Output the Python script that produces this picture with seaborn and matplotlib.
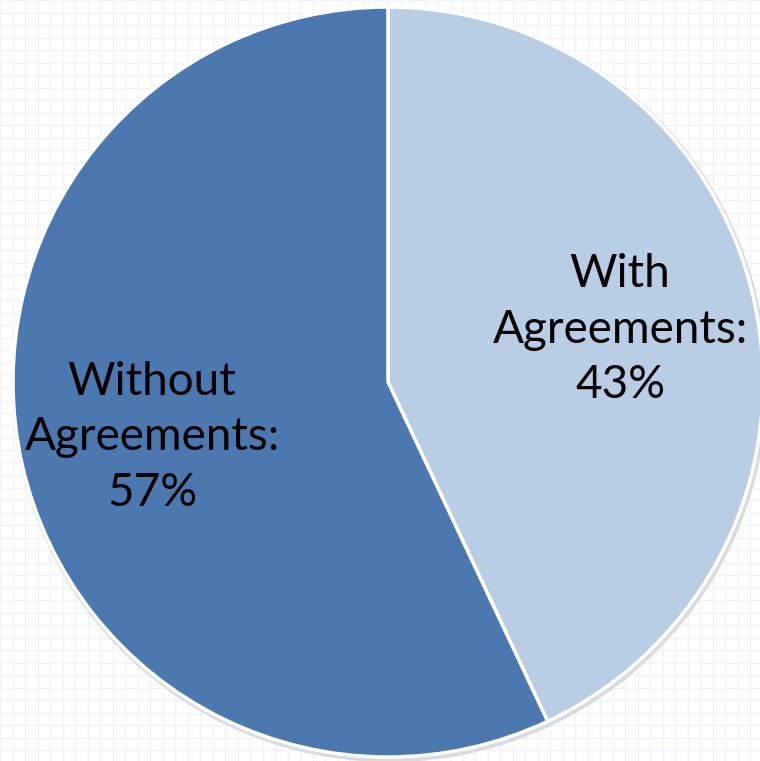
import numpy as np
import matplotlib
matplotlib.use("Agg")
from matplotlib import pyplot as plt
import seaborn as sns

labels = ["With\nAgreements:\n43%", "Without\nAgreements:\n57%"]
shares = [43, 57]
colors = ["#B9CDE5", "#4A78AF"]

sns.set_theme(style="white")
plt.rcParams["font.family"] = ["Lato", "DejaVu Sans"]

fig = plt.figure(figsize=(7.6, 7.61), dpi=100)

# faint grid-paper background
bg = fig.add_axes([0, 0, 1, 1], zorder=0)
bg.set_xlim(0, 760)
bg.set_ylim(761, 0)
bg.set_xticks(np.arange(0, 761, 12.5))
bg.set_yticks(np.arange(0, 762, 12.5))
bg.grid(True, color="#EFF3F7", linewidth=1.0)
bg.tick_params(length=0, labelbottom=False, labelleft=False)
for s in bg.spines.values():
    s.set_visible(False)
bg.set_facecolor("white")

ax = fig.add_axes([0, 0, 1, 1], zorder=1)
ax.patch.set_alpha(0)
wedges, _ = ax.pie(
    shares,
    colors=colors,
    startangle=90,
    counterclock=False,
    radius=1.0,
    wedgeprops=dict(edgecolor="white", linewidth=2.5),
)
# soft shadow rim
ax.add_patch(plt.Circle((0.004, -0.006), 1.006, color="#D8DCE0", zorder=0.5))

ax.text(0.619, 0.139, labels[0], ha="center", va="center", fontsize=33,
        color="black", linespacing=1.4)
ax.text(-0.629, -0.147, labels[1], ha="center", va="center", fontsize=33,
        color="black", linespacing=1.4)

ax.set_xlim(-388 / 375, 372 / 375)
ax.set_ylim(-379 / 375, 382 / 375)
ax.set_aspect("equal")
ax.axis("off")

fig.savefig("out.png", dpi=100)
